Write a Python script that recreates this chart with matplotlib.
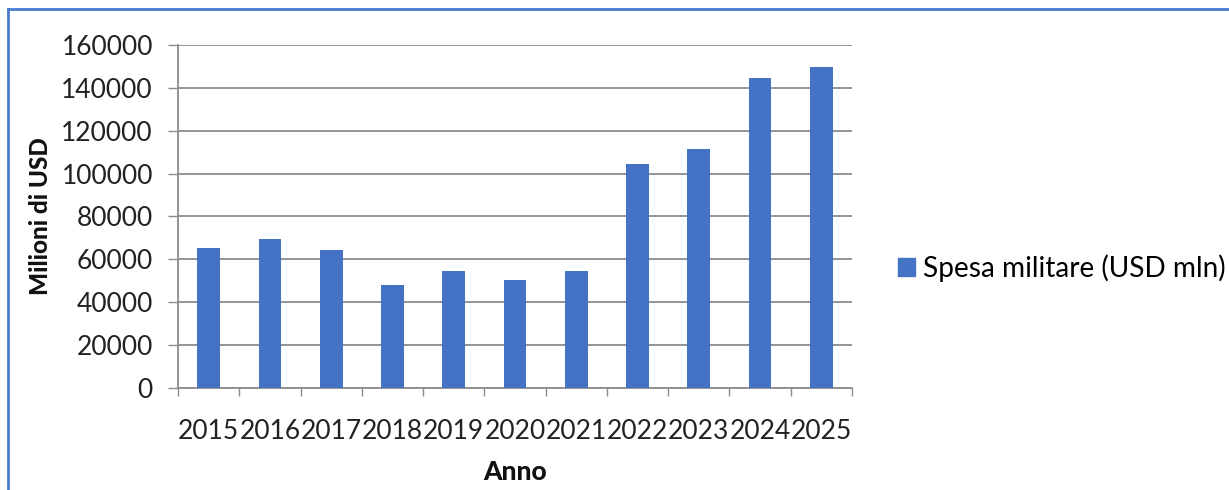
import matplotlib
matplotlib.use("Agg")
import matplotlib.pyplot as plt
from matplotlib.lines import Line2D
from matplotlib.patches import Patch

years = ["2015", "2016", "2017", "2018", "2019", "2020", "2021", "2022", "2023", "2024", "2025"]
spesa = [65500, 69600, 64600, 48000, 54700, 50200, 54700, 104500, 111700, 144500, 149600]
series_name = "Spesa militare (USD mln)"
y_ticks = [0, 20000, 40000, 60000, 80000, 100000, 120000, 140000, 160000]

plt.rcParams['font.family'] = ['Lato', 'DejaVu Sans']

fig = plt.figure(figsize=(12.29, 4.90), dpi=100)
ax = fig.add_axes([178/1229, 1-388/490, (852-178)/1229, (388-45)/490])

bar_color = "#4472C4"
x = list(range(len(years)))
ax.bar(x, spesa, width=0.37, color=bar_color, zorder=3)

ax.set_ylim(0, 160000)
ax.set_xlim(-0.5, len(years) - 0.5)
ax.set_yticks(y_ticks)
ax.set_yticklabels([str(v) for v in y_ticks], fontsize=19, color="#222222")
ax.yaxis.grid(True, color="#8c8c8c", linewidth=1.3, zorder=0)
ax.tick_params(axis='y', length=7, width=1.0, color="#8c8c8c", pad=11)

# category ticks at boundaries, labels at centers
ax.set_xticks([i - 0.5 for i in range(len(years) + 1)])
ax.set_xticklabels([])
ax.set_xticks(x, minor=True)
ax.set_xticklabels(years, minor=True, fontsize=19, color="#222222")
ax.tick_params(axis='x', which='major', length=6, width=1.0, color="#8c8c8c", direction='out')
ax.tick_params(axis='x', which='minor', length=0, pad=22)

for s in ["top", "right"]:
    ax.spines[s].set_visible(False)
ax.spines["left"].set_color("#8c8c8c")
ax.spines["bottom"].set_color("#8c8c8c")
ax.spines["left"].set_linewidth(1.3)
ax.spines["bottom"].set_linewidth(1.3)

ax.set_ylabel("Milioni di USD", fontsize=17.5, fontweight="black", color="#111111")
ax.yaxis.set_label_coords((52 - 178) / 674, 0.5)
ax.set_xlabel("Anno", fontsize=19, fontweight="black", labelpad=12, color="#111111")

handles = [Patch(facecolor=bar_color, edgecolor=bar_color)]
fig.legend(handles, [series_name], loc="center right", bbox_to_anchor=(1226/1229, 1-268/490),
           frameon=False, fontsize=20.2, handlelength=0.62, handleheight=0.62, handletextpad=0.3,
           borderaxespad=0, borderpad=0)

# outer blue frame (top and left)
frame_color = "#4a7ad0"
fig.add_artist(Line2D([8/1229, 1.0], [1-9.5/490, 1-9.5/490], transform=fig.transFigure, color=frame_color, linewidth=2))
fig.add_artist(Line2D([8/1229, 8/1229], [0, 1-9.5/490], transform=fig.transFigure, color=frame_color, linewidth=2))

fig.savefig("out.png", dpi=100)
